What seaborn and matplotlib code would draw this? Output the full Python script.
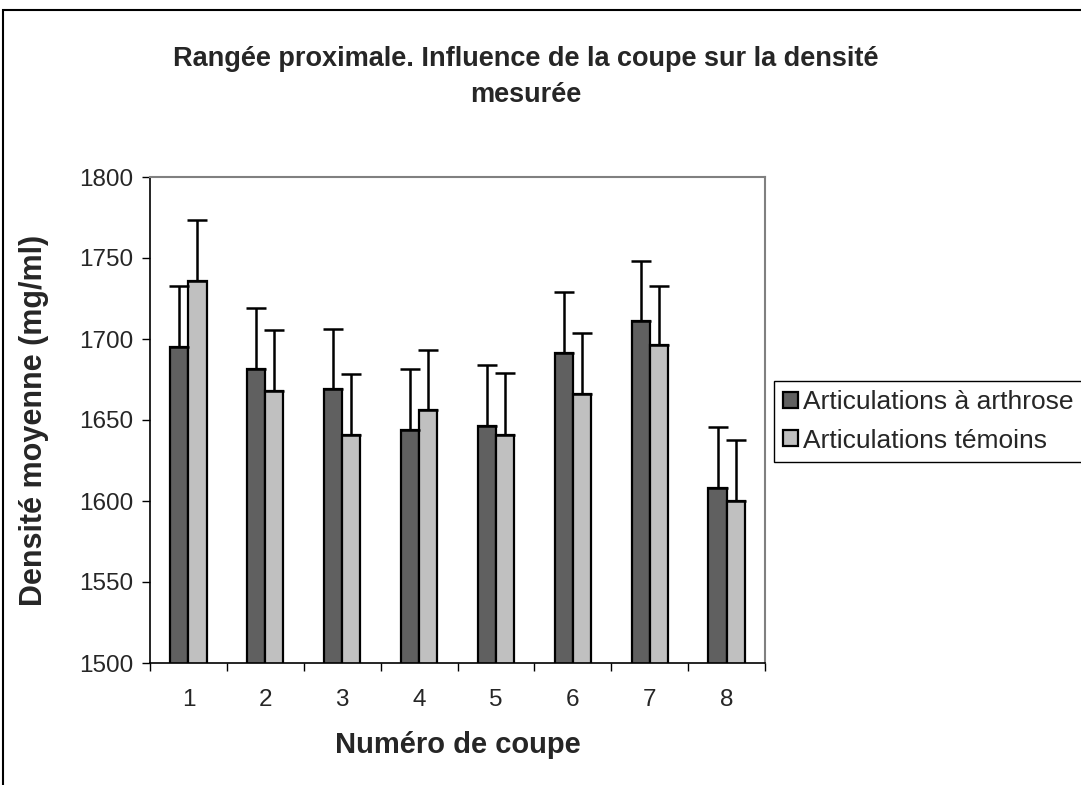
import numpy as np
import pandas as pd
import seaborn as sns
from matplotlib import pyplot as plt
from matplotlib import ticker as tick
from matplotlib.patches import Rectangle, Patch

# data
coupes = ["1", "2", "3", "4", "5", "6", "7", "8"]
series_names = ["Articulations à arthrose", "Articulations témoins"]
arthrose = [1695, 1681.5, 1669, 1644, 1646, 1691.5, 1711, 1608]
arthrose_err = [37.5, 37.5, 37, 37.5, 38, 37.3, 37, 37.4]
temoins = [1736, 1668, 1641, 1656, 1641, 1666, 1696, 1600]
temoins_err = [37.5, 37.6, 37.4, 37, 38, 37.5, 37, 37.7]
colors = ["#606060", "#C0C0C0"]

W, H = 1081, 785


def main():
    sns.set_theme(style="white")
    plt.rcParams["font.family"] = ["Liberation Sans", "DejaVu Sans"]

    df = pd.DataFrame(
        {
            "coupe": coupes * 2,
            "densite": arthrose + temoins,
            "serie": [series_names[0]] * 8 + [series_names[1]] * 8,
        }
    )
    errs = [arthrose_err, temoins_err]

    fig = plt.figure(figsize=(W / 100, H / 100), dpi=100)
    ax = fig.add_axes([150 / W, 1 - 663 / H, (765 - 150) / W, (663 - 177) / H])

    sns.barplot(
        data=df,
        x="coupe",
        y="densite",
        hue="serie",
        palette=colors,
        width=0.47,
        gap=0,
        errorbar=None,
        edgecolor="black",
        linewidth=1.6,
        saturation=1,
        legend=False,
        ax=ax,
    )

    # upward-only error bars on bar centres
    for cont, err in zip(ax.containers, errs):
        xs = [p.get_x() + p.get_width() / 2 for p in cont.patches]
        ys = [p.get_height() for p in cont.patches]
        ax.errorbar(
            xs,
            ys,
            yerr=[np.zeros(len(err)), err],
            fmt="none",
            ecolor="black",
            elinewidth=1.8,
            capsize=7.5,
            capthick=1.8,
            zorder=1,
        )

    ax.set_ylim(1500, 1800)
    ax.set_xlim(-0.5, 7.5)
    ax.yaxis.set_major_locator(tick.MultipleLocator(50))
    ax.xaxis.set_minor_locator(tick.FixedLocator(np.arange(-0.5, 8, 1)))
    ax.tick_params(axis="x", which="major", length=0, pad=19, labelsize=17.5)
    ax.tick_params(axis="x", which="minor", length=6, width=1, color="black",
                   direction="out", bottom=True)
    ax.tick_params(axis="y", length=6, width=1, color="black", direction="out",
                   left=True, pad=6, labelsize=17.5)
    for s in ["left", "bottom"]:
        ax.spines[s].set_color("black")
        ax.spines[s].set_linewidth(1.2)
    for s in ["top", "right"]:
        ax.spines[s].set_color("#808080")
        ax.spines[s].set_linewidth(1.5)

    ax.set_xlabel("Numéro de coupe", fontsize=21, fontweight="bold", labelpad=14)
    ax.set_ylabel("Densité moyenne (mg/ml)", fontsize=22, fontweight="bold",
                  labelpad=22)

    fig.text(526 / W, 1 - 76.5 / H,
             "Rangée proximale. Influence de la coupe sur la densité\nmesurée",
             ha="center", va="center", fontsize=19.5, fontweight="bold",
             linespacing=1.5)

    handles = [Patch(facecolor=c, edgecolor="black", linewidth=1.6) for c in colors]
    leg = ax.legend(
        handles,
        series_names,
        loc="upper left",
        bbox_to_anchor=(774 / W, 1 - 381 / H),
        bbox_transform=fig.transFigure,
        fontsize=19,
        frameon=True,
        fancybox=False,
        framealpha=1,
        edgecolor="black",
        borderaxespad=0,
        borderpad=0.35,
        handlelength=0.55,
        handleheight=0.55,
        handletextpad=0.2,
        labelspacing=0.55,
    )
    leg.get_frame().set_linewidth(1)

    # outer chart frame
    fig.patches.append(
        Rectangle((3 / W, -0.1), 1.2, 1 - 10 / H + 0.1, transform=fig.transFigure,
                  fill=False, edgecolor="black", linewidth=1.5)
    )

    fig.savefig("out.png", dpi=100)


if __name__ == "__main__":
    main()
